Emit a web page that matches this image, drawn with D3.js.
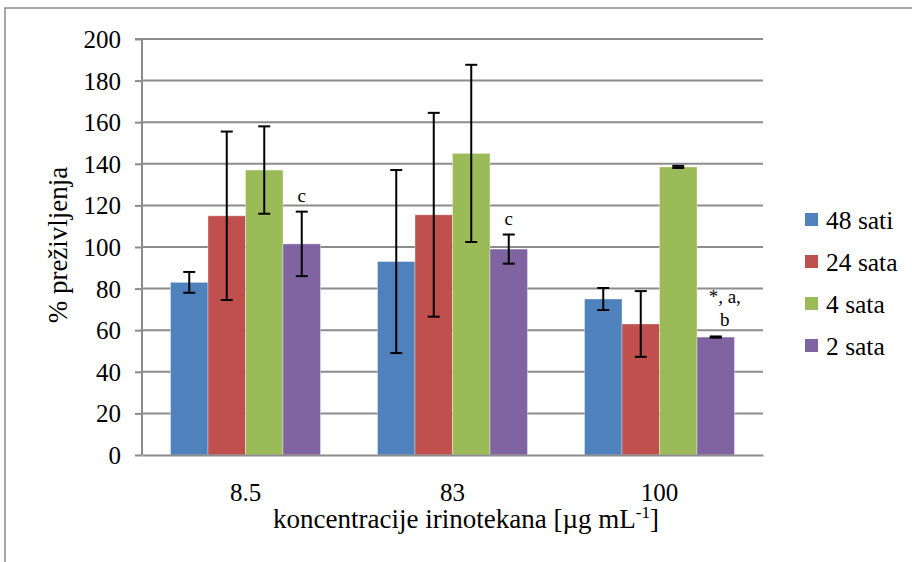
<!DOCTYPE html>
<html><head><meta charset="utf-8">
<script src="https://cdn.jsdelivr.net/npm/d3@7"></script>
<style>body{margin:0;background:#fff}svg{display:block}svg text{font-family:"Liberation Serif","Times New Roman",Times,"DejaVu Serif",serif !important;fill:#000}</style>
</head><body><svg id="c" width="912" height="562"></svg>
<script>
const categories = ["8.5", "83", "100"];
const seriesNames = ["48 sati", "24 sata", "4 sata", "2 sata"];
const colors = ["#4F81BD", "#C0504D", "#9BBB59", "#8064A2"];
const values48 = [83, 93, 75];
const values24 = [115, 115.5, 63];
const values4 = [137, 145, 138.5];
const values2 = [101.5, 99, 56.7];
const err48 = [5, 44, 5.3];
const err24 = [40.5, 49, 15.8];
const err4 = [21, 42.6, 0.5];
const err2 = [15.5, 7, 0.3];
const yTicks = [0, 20, 40, 60, 80, 100, 120, 140, 160, 180, 200];
const annotations = [
  {cat: "8.5", series: "2 sata", lines: ["c"]},
  {cat: "83", series: "2 sata", lines: ["c"]},
  {cat: "100", series: "2 sata", lines: ["*, a,", "b"]}
];

const allVals = [values48, values24, values4, values2];
const allErr = [err48, err24, err4, err2];
const data = [];
categories.forEach((c, i) => seriesNames.forEach((s, j) => data.push({cat: c, series: s, v: allVals[j][i], e: allErr[j][i], color: colors[j]})));

const FONT = "Liberation Serif";
const svg = d3.select("#c");
const L = 142, R = 763, T = 39, B = 455;
const y = d3.scaleLinear().domain([0, 200]).range([B, T]);
const x = d3.scaleBand().domain(categories).range([L, R]);
const inset = x.bandwidth() * 0.1377;
const xs = d3.scaleBand().domain(seriesNames).range([inset, x.bandwidth() - inset]);

// outer frame
svg.append("rect").attr("x", 5).attr("y", 8).attr("width", 1000).attr("height", 1000)
  .attr("fill", "none").attr("stroke", "#8a8a8a").attr("stroke-width", 1.5);

// gridlines
svg.append("g").selectAll("line").data(yTicks.filter(t => t > 0)).join("line")
  .attr("x1", L).attr("x2", R).attr("y1", d => y(d)).attr("y2", d => y(d))
  .attr("stroke", "#8c8c8c").attr("stroke-width", 2);

// y axis
const ya = svg.append("g").attr("transform", `translate(${L},0)`)
  .call(d3.axisLeft(y).tickValues(yTicks).tickSize(7).tickPadding(14).tickFormat(d3.format("d")));
ya.attr("font-family", FONT);
ya.select(".domain").attr("stroke", "#8c8c8c").attr("stroke-width", 2).attr("d", `M-7,${T}H0V${B}`);
ya.selectAll(".tick line").attr("stroke", "#8c8c8c").attr("stroke-width", 2);
ya.selectAll(".tick text").attr("font-size", 25).attr("fill", "#000").attr("dy", "0.34em");

// bars
svg.append("g").selectAll("rect").data(data).join("rect")
  .attr("x", d => x(d.cat) + xs(d.series)).attr("width", xs.bandwidth())
  .attr("y", d => y(d.v)).attr("height", d => y(0) - y(d.v))
  .attr("fill", d => d.color).attr("stroke", "rgba(255,255,255,0.35)").attr("stroke-width", 1);

// x axis
const xa = svg.append("g").attr("transform", `translate(0,${B})`)
  .call(d3.axisBottom(x).tickSize(0).tickPadding(28));
xa.attr("font-family", FONT);
xa.select(".domain").attr("stroke", "#8c8c8c").attr("stroke-width", 2);
xa.selectAll(".tick text").attr("font-size", 25).attr("fill", "#000");

// error bars
const cap = 6;
const eg = svg.append("g").attr("stroke", "#000").attr("stroke-width", 2);
data.forEach(d => {
  const cx = x(d.cat) + xs(d.series) + xs.bandwidth() / 2;
  const y1 = y(d.v + d.e), y2 = y(d.v - d.e);
  eg.append("line").attr("x1", cx).attr("x2", cx).attr("y1", y1).attr("y2", y2);
  eg.append("line").attr("x1", cx - cap).attr("x2", cx + cap).attr("y1", y1).attr("y2", y1);
  eg.append("line").attr("x1", cx - cap).attr("x2", cx + cap).attr("y1", y2).attr("y2", y2);
});

// annotations
annotations.forEach(a => {
  const d = data.find(q => q.cat === a.cat && q.series === a.series);
  const cx = x(d.cat) + xs(d.series) + xs.bandwidth() / 2 + (a.lines.length > 1 ? 9 : 0);
  const top = y(d.v + d.e);
  a.lines.forEach((ln, k) => {
    svg.append("text").attr("x", cx).attr("y", top - 10 - (a.lines.length - 1 - k) * 23)
      .attr("text-anchor", "middle").attr("font-family", FONT).attr("font-size", 19).text(ln);
  });
});

// axis titles
svg.append("text").attr("transform", `translate(67,245) rotate(-90)`)
  .attr("text-anchor", "middle").attr("font-family", FONT).attr("font-size", 27).text("% preživljenja");
const xt = svg.append("text").attr("x", 466).attr("y", 528).attr("text-anchor", "middle")
  .attr("font-family", FONT).attr("font-size", 27);
xt.append("tspan").text("koncentracije irinotekana [µg mL");
xt.append("tspan").attr("font-size", 17).attr("dy", -10).text("-1");
xt.append("tspan").attr("dy", 10).text("]");

// legend
const lg = svg.append("g").attr("font-family", FONT).selectAll("g").data(seriesNames).join("g")
  .attr("transform", (d, i) => `translate(805,${220 + i * 42})`);
lg.append("rect").attr("x", 0).attr("y", -7).attr("width", 13).attr("height", 13).attr("fill", (d, i) => colors[i]);
lg.append("text").attr("x", 21).attr("y", 0).attr("dy", "0.34em").attr("font-size", 25.5).text(d => d);
</script></body></html>
